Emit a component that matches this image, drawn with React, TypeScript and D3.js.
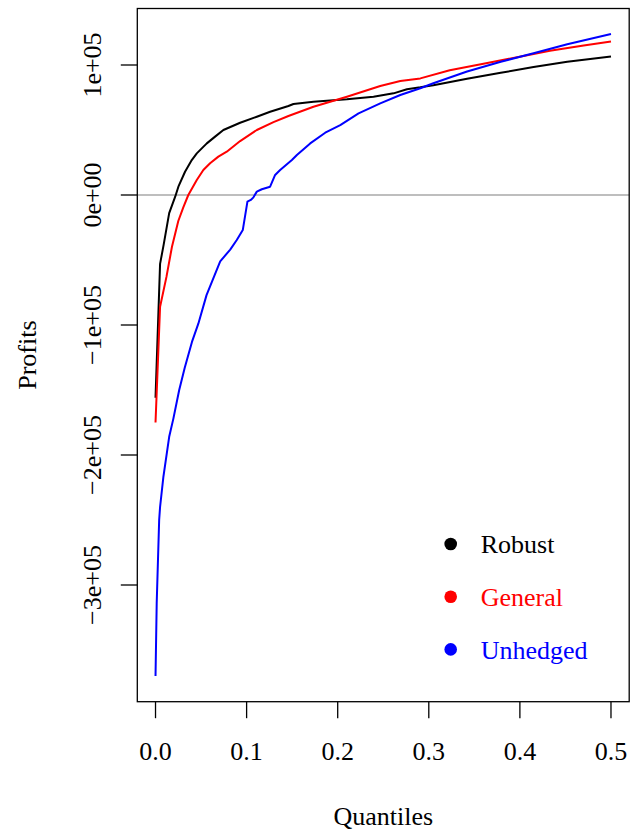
import React from "react";
import * as d3 from "d3";

// ---- Data ----
const robustQ = [0, 0.005, 0.009, 0.015, 0.0215, 0.0251, 0.0324, 0.0398, 0.0453, 0.0563, 0.0654, 0.0745, 0.0929, 0.1112, 0.1258, 0.1459, 0.1514, 0.1734, 0.2101, 0.2393, 0.2613, 0.276, 0.2907, 0.305, 0.342, 0.379, 0.415, 0.452, 0.5];
const robustV = [-156000, -53000, -38000, -14000, -1500, 6400, 17900, 26900, 32000, 39700, 44900, 50000, 55600, 60200, 64000, 68500, 70000, 71800, 73600, 75600, 78200, 81300, 82800, 84500, 89500, 94000, 98500, 102500, 106500];

const generalQ = [0, 0.005, 0.012, 0.018, 0.025, 0.0305, 0.036, 0.0453, 0.0525, 0.0599, 0.069, 0.0782, 0.0929, 0.1112, 0.1295, 0.1459, 0.1734, 0.2101, 0.2467, 0.2687, 0.2907, 0.323, 0.36, 0.397, 0.433, 0.47, 0.5];
const generalV = [-175000, -86000, -63000, -40000, -20000, -9500, 0, 11500, 19200, 24400, 29500, 33300, 41500, 50000, 56000, 60800, 67900, 75600, 83800, 87700, 89700, 96000, 101000, 106000, 111000, 115000, 118000];

const unhedgedQ = [0, 0.0013, 0.004, 0.005, 0.0086, 0.015, 0.0196, 0.026, 0.032, 0.04, 0.047, 0.056, 0.071, 0.082, 0.0892, 0.0958, 0.1009, 0.1046, 0.1075, 0.1112, 0.1167, 0.1258, 0.1313, 0.1368, 0.1497, 0.1552, 0.1698, 0.1863, 0.2028, 0.2229, 0.2467, 0.2687, 0.2907, 0.305, 0.342, 0.379, 0.415, 0.452, 0.5];
const unhedgedV = [-370000, -314000, -250000, -240000, -217000, -186000, -172000, -150000, -133000, -113000, -99000, -77000, -51000, -42000, -34600, -27000, -5100, -3800, -1800, 2600, 4400, 6400, 15400, 19200, 26900, 30800, 39700, 47900, 53800, 62800, 70500, 76900, 82100, 86000, 95000, 102500, 109000, 116000, 123800];

const seriesNames = ["Robust", "General", "Unhedged"];
const seriesColors = ["#000000", "#ff0000", "#0000ff"];

const xTicks = [0, 0.1, 0.2, 0.3, 0.4, 0.5];
const xTickLabels = ["0.0", "0.1", "0.2", "0.3", "0.4", "0.5"];
const yTicks = [-300000, -200000, -100000, 0, 100000];
const yTickLabels = ["\u22123e+05", "\u22122e+05", "\u22121e+05", "0e+00", "1e+05"];

const xLabel = "Quantiles";
const yLabel = "Profits";

// ---- Layout ----
const W = 630;
const H = 835;
const FONT = "'Liberation Serif', 'Times New Roman', Times, serif";
const FS = 26;

const x = d3.scaleLinear().domain([-0.02, 0.52]).range([137.3, 629.2]);
const y = d3.scaleLinear().domain([-300000, 100000]).range([585, 65]);
const boxTop = 8.5;
const boxBottom = 701.7;
const boxLeft = x(-0.02);
const boxRight = x(0.52);

export default function App() {
  const line = d3
    .line<[number, number]>()
    .x((d) => x(d[0]))
    .y((d) => y(d[1]));

  const series = [
    robustQ.map((q, i) => [q, robustV[i]] as [number, number]),
    generalQ.map((q, i) => [q, generalV[i]] as [number, number]),
    unhedgedQ.map((q, i) => [q, unhedgedV[i]] as [number, number]),
  ];

  const tickLen = 16.5;
  const legendX = 450.7;
  const legendY0 = 544;
  const legendDy = 52.7;

  return (
    <svg
      width={W}
      height={H}
      style={{ position: "absolute", left: 0, top: 0, background: "#fff" }}
      fontFamily={FONT}
    >
      <rect x={0} y={0} width={W} height={H} fill="#fff" />
      {/* zero reference line */}
      <line
        x1={boxLeft}
        x2={boxRight}
        y1={y(0)}
        y2={y(0)}
        stroke="#bebebe"
        strokeWidth={2}
      />
      {/* series */}
      {series.map((s, i) => (
        <path
          key={seriesNames[i]}
          d={line(s) || ""}
          fill="none"
          stroke={seriesColors[i]}
          strokeWidth={2}
          strokeLinejoin="round"
        />
      ))}
      {/* box */}
      <rect
        x={boxLeft}
        y={boxTop}
        width={boxRight - boxLeft}
        height={boxBottom - boxTop}
        fill="none"
        stroke="#000"
        strokeWidth={1.3}
      />
      {/* x axis */}
      {xTicks.map((t, i) => (
        <g key={"xt" + i}>
          <line
            x1={x(t)}
            x2={x(t)}
            y1={boxBottom}
            y2={boxBottom + tickLen}
            stroke="#000"
            strokeWidth={1.3}
          />
          <text x={x(t)} y={760} textAnchor="middle" fontSize={FS} fill="#000">
            {xTickLabels[i]}
          </text>
        </g>
      ))}
      {/* y axis */}
      {yTicks.map((t, i) => (
        <g key={"yt" + i}>
          <line
            x1={boxLeft - tickLen}
            x2={boxLeft}
            y1={y(t)}
            y2={y(t)}
            stroke="#000"
            strokeWidth={1.3}
          />
          <text
            transform={`translate(101,${y(t)}) rotate(-90)`}
            textAnchor="middle"
            fontSize={FS}
            fill="#000"
          >
            {yTickLabels[i]}
          </text>
        </g>
      ))}
      {/* axis titles */}
      <text x={(boxLeft + boxRight) / 2} y={825} textAnchor="middle" fontSize={FS} fill="#000">
        {xLabel}
      </text>
      <text
        transform={`translate(35.5,${(boxTop + boxBottom) / 2}) rotate(-90)`}
        textAnchor="middle"
        fontSize={FS}
        fill="#000"
      >
        {yLabel}
      </text>
      {/* legend */}
      {seriesNames.map((n, i) => (
        <g key={"lg" + n}>
          <circle cx={legendX} cy={legendY0 + i * legendDy} r={6.3} fill={seriesColors[i]} />
          <text
            x={480.7}
            y={legendY0 + i * legendDy + 9.3}
            fontSize={FS}
            fill={seriesColors[i]}
          >
            {n}
          </text>
        </g>
      ))}
    </svg>
  );
}
